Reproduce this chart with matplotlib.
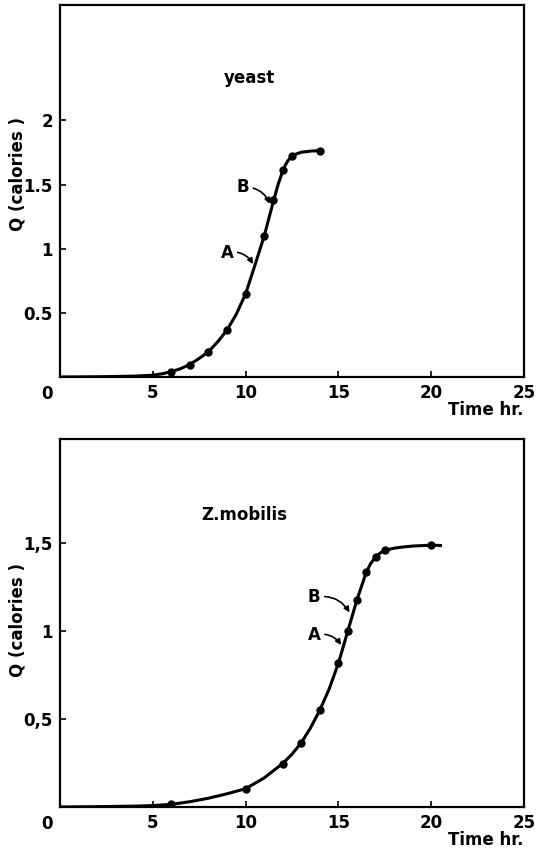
import matplotlib
matplotlib.use("Agg")
import matplotlib.pyplot as plt

plt.rcParams['font.family'] = ['DejaVu Sans']
plt.rcParams['font.weight'] = 'bold'

yeast_t = [6, 7, 8, 9, 10, 11, 11.5, 12, 12.5, 14]
yeast_q = [0.04, 0.097, 0.196, 0.366, 0.648, 1.098, 1.378, 1.613, 1.72, 1.765]
yeast_curve_t = [0, 2, 3, 4, 5, 5.5, 6, 6.5, 7, 7.5, 8, 8.5, 9, 9.5, 10, 10.5,
                 11, 11.25, 11.5, 11.75, 12, 12.15, 12.3, 12.5, 12.75, 13, 13.5, 14]
yeast_curve_q = [0, 0.002, 0.004, 0.007, 0.014, 0.025, 0.042, 0.065, 0.098, 0.145,
                 0.197, 0.275, 0.366, 0.49, 0.648, 0.87, 1.098, 1.235, 1.37, 1.5,
                 1.605, 1.655, 1.69, 1.72, 1.74, 1.752, 1.761, 1.765]

# Z. mobilis
zymo_t = [6, 10, 12, 13, 14, 15, 15.5, 16, 16.5, 17, 17.5, 20]
zymo_q = [0.015, 0.104, 0.247, 0.365, 0.55, 0.816, 0.997, 1.177, 1.333, 1.418, 1.458, 1.487]
zymo_curve_t = [0, 2, 4, 5, 6, 7, 8, 9, 10, 11, 12, 12.5, 13, 13.5, 14, 14.5,
                15, 15.5, 16, 16.5, 16.75, 17, 17.25, 17.5, 18, 18.5, 19, 20, 20.5]
zymo_curve_q = [0, 0.002, 0.005, 0.008, 0.015, 0.03, 0.05, 0.075, 0.104, 0.165,
                0.247, 0.3, 0.365, 0.45, 0.55, 0.67, 0.816, 0.997, 1.177, 1.333,
                1.385, 1.418, 1.442, 1.458, 1.47, 1.477, 1.482, 1.487, 1.485]

W, H = 538, 856
fig = plt.figure(figsize=(W / 100, H / 100), dpi=100)
FS = 12


def make_axes(top_px, bottom_px):
    return fig.add_axes([60 / W, (H - bottom_px) / H, 464 / W, (bottom_px - top_px) / H])


def style(ax, ymax, yticks, ylabels, ylab_y):
    ax.set_xlim(0, 25)
    ax.set_ylim(0, ymax)
    ax.set_xticks([5, 10, 15, 20, 25])
    ax.set_xticklabels(['5', '10', '15', '20', '25'])
    ax.set_yticks(yticks)
    ax.set_yticklabels(ylabels)
    ax.tick_params(direction='in', length=4, width=1.2, labelsize=FS, pad=5)
    for s in ax.spines.values():
        s.set_linewidth(1.6)
    ax.text(-0.028, -0.045, '0', transform=ax.transAxes, ha='center', va='center',
            fontsize=FS, fontweight='bold')
    ax.text(1.0, -0.09, 'Time hr.', transform=ax.transAxes, ha='right', va='center',
            fontsize=FS, fontweight='bold')
    ax.set_ylabel('Q (calories )', fontsize=FS, fontweight='bold')
    ax.yaxis.set_label_coords(-0.072, ylab_y)


def arrow(ax, label, xy, xytext):
    ax.annotate(label, xy=xy, xytext=xytext, ha='center', va='center',
                fontsize=FS, fontweight='bold',
                arrowprops=dict(arrowstyle='-|>', connectionstyle='arc3,rad=-0.35',
                                color='k', lw=1.2, mutation_scale=8,
                                shrinkA=1, shrinkB=0))


# top panel
ax1 = make_axes(5, 377)
ax1.plot(yeast_curve_t, yeast_curve_q, color='k', lw=2.2, solid_joinstyle='round')
ax1.plot(yeast_t, yeast_q, 'o', color='k', ms=5)
style(ax1, 2.9, [0.5, 1, 1.5, 2], ['0.5', '1', '1.5', '2'], 0.545)
ax1.text(10.2, 2.33, 'yeast', ha='center', va='center', fontsize=FS, fontweight='bold')
arrow(ax1, 'B', (11.3, 1.35), (9.85, 1.48))
arrow(ax1, 'A', (10.4, 0.88), (9.0, 0.97))

# bottom panel
ax2 = make_axes(439, 807)
ax2.plot(zymo_curve_t, zymo_curve_q, color='k', lw=2.2, solid_joinstyle='round')
ax2.plot(zymo_t, zymo_q, 'o', color='k', ms=5)
style(ax2, 2.09, [0.5, 1, 1.5], ['0,5', '1', '1,5'], 0.507)
ax2.text(9.95, 1.66, 'Z.mobilis', ha='center', va='center', fontsize=FS, fontweight='bold')
arrow(ax2, 'B', (15.6, 1.105), (13.7, 1.19))
arrow(ax2, 'A', (15.15, 0.92), (13.7, 0.975))

fig.savefig('out.png', dpi=100)
